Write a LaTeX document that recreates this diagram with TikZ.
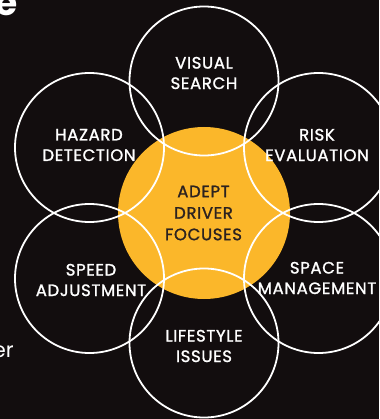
\documentclass[tikz,border=0pt]{standalone}
\usepackage{fontspec}
\setmainfont{Poppins}
\newfontfamily\gfont{Poppins}[FakeBold=1.3,LetterSpace=4]
\definecolor{bg}{HTML}{120D0E}
\definecolor{gold}{HTML}{FBB72A}
\definecolor{ink}{HTML}{2B2220}
\begin{document}
\begin{tikzpicture}[x=1pt,y=-1pt,
  ring/.style={draw=white,line width=1.8pt},
  lbl/.style={text=white,align=center,font=\gfont\fontsize{16.5}{20.5}\selectfont,inner sep=0pt},
  clbl/.style={text=ink,align=center,font=\gfont\fontsize{16.5}{21.5}\selectfont,inner sep=0pt}]
\fill[bg] (0,0) rectangle (379,419);
\useasboundingbox (0,0) rectangle (379,419);
\fill[gold] (204,213) circle[radius=86];
\coordinate (c) at (204,213);
\draw[ring] (204,81) circle[radius=74.5];
\draw[ring] (204,343) circle[radius=74.5];
\draw[ring] (89.5,147.5) circle[radius=74.5];
\draw[ring] (318.5,147.5) circle[radius=74.5];
\draw[ring] (89.5,278.5) circle[radius=74.5];
\draw[ring] (318.5,278.5) circle[radius=74.5];
\node[lbl] (vs) at (204,73) {VISUAL\\SEARCH};
\node[lbl] (hd) at (89,145) {HAZARD\\DETECTION};
\node[lbl] (re) at (317,145) {RISK\\EVALUATION};
\node[clbl] (adf) at (203.5,213) {ADEPT\\DRIVER\\FOCUSES};
\node[lbl] (sa) at (91,280) {SPEED\\ADJUSTMENT};
\node[lbl] (sm) at (317,278) {SPACE\\MANAGEMENT};
\node[lbl] (li) at (204,346) {LIFESTYLE\\ISSUES};
\node[text=white,font=\fontsize{36}{36}\bfseries\selectfont,anchor=base east,inner sep=0pt] (e) at (18,16) {e};
\node[text=white,font=\fontsize{21}{21}\selectfont,anchor=base east,inner sep=0pt] (er) at (14,357) {er};
\end{tikzpicture}
\end{document}
